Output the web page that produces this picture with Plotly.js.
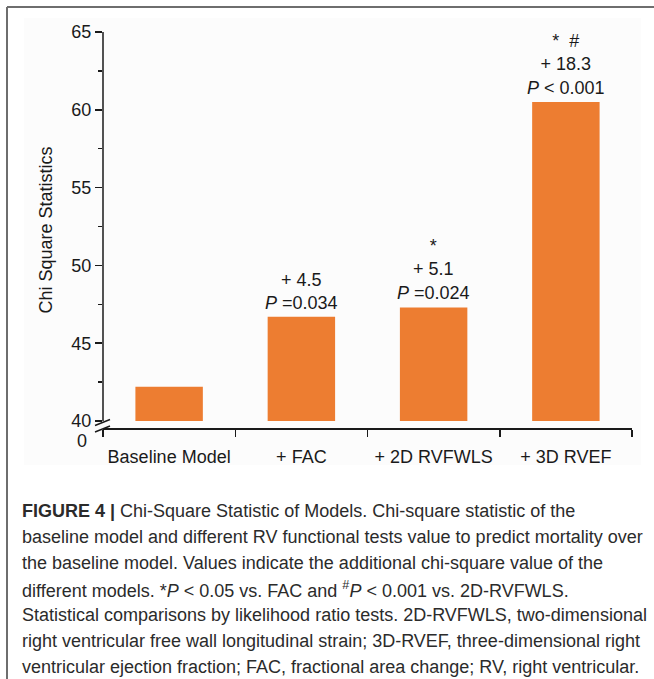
<!DOCTYPE html>
<html>
<head>
<meta charset="utf-8">
<script src="https://cdn.plot.ly/plotly-3.0.1.min.js"></script>
<style>
html,body{margin:0;padding:0;background:#fff;}
#chart{width:654px;height:679px;}
</style>
</head>
<body>
<div id="chart"></div>
<script>
// ---- data ----
const categories = ["Baseline Model", "+ FAC", "+ 2D RVFWLS", "+ 3D RVEF"];
const chiSquare = [42.2, 46.7, 47.3, 60.5];
const axisBreakValue = 40;
const gainLabels = ["", "+ 4.5", "+ 5.1", "+ 18.3"];
const pLabels = ["", "<i>P</i> =0.034", "<i>P</i> =0.024", "<i>P</i> < 0.001"];
const sigLabels = ["", "", "*", "*  #"];
const yTickVals = [40, 45, 50, 55, 60, 65];
const yMinorVals = [42.5, 47.5, 52.5, 57.5, 62.5];
const captionLines = [
  "<b>FIGURE 4 |</b> Chi-Square Statistic of Models. Chi-square statistic of the",
  "baseline model and different RV functional tests value to predict mortality over",
  "the baseline model. Values indicate the additional chi-square value of the",
  "different models. *<i>P</i> < 0.05 vs. FAC and <sup>#</sup><i>P</i> < 0.001 vs. 2D-RVFWLS.",
  "Statistical comparisons by likelihood ratio tests. 2D-RVFWLS, two-dimensional",
  "right ventricular free wall longitudinal strain; 3D-RVEF, three-dimensional right",
  "ventricular ejection fraction; FAC, fractional area change; RV, right ventricular."
];

// ---- geometry helpers (pixel -> paper) ----
const W = 654, H = 679;
const mL = 103, mR = 22, mT = 32, mB = 251;
const pw = W - mL - mR, ph = H - mT - mB;
const px = x => (x - mL) / pw;
const py = y => (H - mB - y) / ph;

const FONT = "Liberation Sans, Arial, Helvetica, sans-serif";
const ink = "#1a1a1a";

// bars start at the axis break (40) and rise to each value
const trace = {
  type: "bar",
  x: categories,
  y: chiSquare.map(v => v - axisBreakValue),
  base: axisBreakValue,
  width: 0.51,
  marker: {color: "#ED7D31", line: {width: 0}},
  hoverinfo: "skip"
};

const annotations = [];
categories.forEach((c, i) => {
  const lines = [sigLabels[i], gainLabels[i], pLabels[i]].filter(s => s !== "");
  if (!lines.length) return;
  annotations.push({
    x: c, y: chiSquare[i], xref: "x", yref: "y",
    text: lines.join("<br>"),
    showarrow: false, yanchor: "bottom", xanchor: "center",
    yshift: 2,
    font: {family: FONT, size: 18, color: ink}
  });
});
// "0" label below axis break
annotations.push({
  x: px(89), y: py(441), xref: "paper", yref: "paper",
  text: "0", showarrow: false, xanchor: "right", yanchor: "middle",
  font: {family: FONT, size: 18, color: ink}
});
// caption
captionLines.forEach((t, i) => {
  annotations.push({
    x: px(20), y: py(511 + i * 26), xref: "paper", yref: "paper",
    text: t, showarrow: false, xanchor: "left", yanchor: "middle", align: "left",
    font: {family: FONT, size: 18, color: "#2b2b2b"}
  });
});

const shapes = [
  // light panel behind chart
  {type: "rect", xref: "paper", yref: "paper", x0: px(24), x1: px(641), y0: py(465), y1: py(18),
   fillcolor: "#fcfcfc", line: {width: 0}, layer: "below"},
  // figure frame (top + left)
  {type: "line", xref: "paper", yref: "paper", x0: px(7), x1: px(660), y0: py(7), y1: py(7),
   line: {color: "#6e6e6e", width: 2}},
  {type: "line", xref: "paper", yref: "paper", x0: px(7), x1: px(7), y0: py(7), y1: py(685),
   line: {color: "#6e6e6e", width: 2}},
  // y axis line from the break up to 65
  {type: "line", xref: "paper", yref: "y", x0: 0, x1: 0, y0: 40, y1: 65,
   line: {color: ink, width: 1.5}},
  // axis break marks
  {type: "line", xref: "paper", yref: "paper", x0: px(95), x1: px(110), y0: py(425.5), y1: py(419.5),
   line: {color: ink, width: 1.5}},
  {type: "line", xref: "paper", yref: "paper", x0: px(95), x1: px(110), y0: py(432), y1: py(426),
   line: {color: ink, width: 1.5}}
];

const layout = {
  width: W, height: H,
  margin: {l: mL, r: mR, t: mT, b: mB, pad: 0},
  paper_bgcolor: "#ffffff",
  plot_bgcolor: "rgba(0,0,0,0)",
  showlegend: false,
  font: {family: FONT, color: ink},
  xaxis: {
    type: "category",
    range: [-0.5, 3.5],
    showline: true, linecolor: ink, linewidth: 1.5,
    ticks: "outside", tickson: "boundaries", ticklen: 7, tickwidth: 1.5, tickcolor: ink,
    tickangle: 0,
    tickfont: {family: FONT, size: 18, color: ink},
    ticklabelstandoff: 12,
    showgrid: false, zeroline: false, fixedrange: true
  },
  yaxis: {
    range: [39.55, 65],
    tickvals: yTickVals,
    ticktext: yTickVals.map(String),
    showline: false,
    ticks: "outside", ticklen: 7, tickwidth: 1.5, tickcolor: ink,
    minor: {tickvals: yMinorVals, ticks: "outside", ticklen: 4, tickwidth: 1.5, tickcolor: ink},
    tickfont: {family: FONT, size: 18, color: ink},
    showgrid: false, zeroline: false, fixedrange: true,
    title: {text: "Chi Square Statistics", font: {family: FONT, size: 18, color: ink}, standoff: 14}
  },
  annotations: annotations,
  shapes: shapes
};

Plotly.newPlot("chart", [trace], layout, {displayModeBar: false, staticPlot: true});
</script>
</body>
</html>
